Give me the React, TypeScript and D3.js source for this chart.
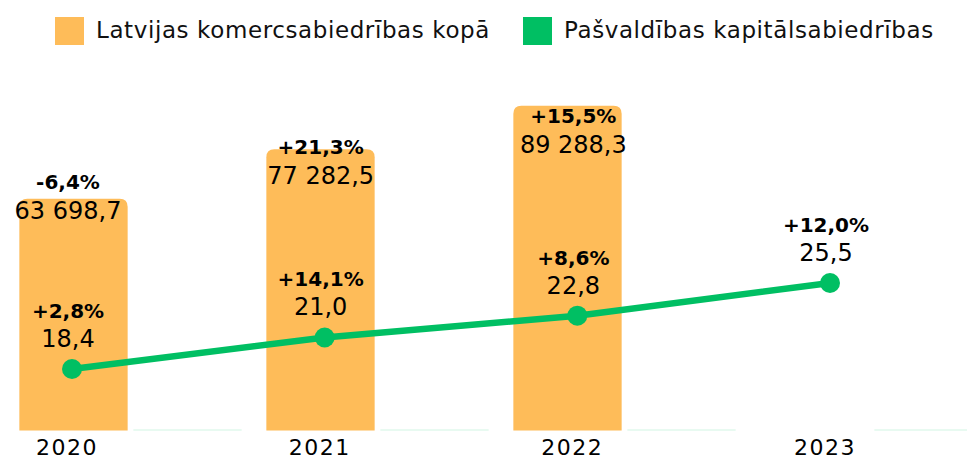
import React, { useEffect, useRef } from 'react';
import * as d3 from 'd3';

// chart data
const years = ['2020', '2021', '2022', '2023'];
const totalValues: (number | null)[] = [63698.7, 77282.5, 89288.3, null];
const totalChange: (string | null)[] = ['-6,4%', '+21,3%', '+15,5%', null];
const municipalValues = [18.4, 21.0, 22.8, 25.5];
const municipalChange = ['+2,8%', '+14,1%', '+8,6%', '+12,0%'];
const seriesNames = ['Latvijas komercsabiedrības kopā', 'Pašvaldības kapitālsabiedrības'];

const ORANGE = '#FEBC59';
const GREEN = '#00BF63';
const MINT = '#D2F6E4';
const FONT = 'DejaVu Sans';

const lv = d3.formatLocale({ decimal: ',', thousands: ' ', grouping: [3], currency: ['', ''] });
const fmt = lv.format(',.1f');

const App = () => {
  const ref = useRef<SVGSVGElement>(null);

  useEffect(() => {
    const width = 967,
      height = 458;
    const svg = d3.select(ref.current);
    svg.selectAll('*').remove();
    svg.attr('width', width).attr('height', height);

    // scales
    const x0 = d3
      .scaleBand()
      .domain(years)
      .range([7, 995])
      .paddingInner(0.1)
      .paddingOuter(0.05);
    const x1 = d3
      .scaleBand()
      .domain(['total', 'municipal'])
      .range([0, x0.bandwidth()])
      .paddingInner(0.05);
    const y = d3.scaleLinear().domain([0, 100000]).range([430.5, 66.7]);
    const yLabel = d3.scaleLinear().domain([0, 100000]).range([383.3, 125.3]);
    const xLine = d3.scalePoint().domain(years).range([72, 830]);
    const y2 = d3.scaleLinear().domain([10, 30]).range([470.7, 228.5]);

    // legend
    const legendItems = [
      { name: seriesNames[0], color: ORANGE, x: 55 },
      { name: seriesNames[1], color: GREEN, x: 523 },
    ];
    const lg = svg.append('g');
    legendItems.forEach((d) => {
      lg.append('rect').attr('x', d.x).attr('y', 17).attr('width', 29).attr('height', 28).attr('fill', d.color);
      lg.append('text')
        .attr('x', d.x + 41)
        .attr('y', 38)
        .attr('font-family', FONT)
        .attr('font-size', 23)
        .attr('letter-spacing', 0.6)
        .attr('fill', '#111')
        .text(d.name);
    });

    // bars
    const r = 8;
    years.forEach((yr, i) => {
      const v = totalValues[i];
      if (v != null) {
        const bx = (x0(yr) ?? 0) + (x1('total') ?? 0);
        const bw = x1.bandwidth();
        const top = y(v);
        const bottom = y(0);
        svg
          .append('path')
          .attr(
            'd',
            `M${bx},${bottom}V${top + r}Q${bx},${top} ${bx + r},${top}H${bx + bw - r}Q${bx + bw},${top} ${bx + bw},${top + r}V${bottom}Z`,
          )
          .attr('fill', ORANGE);
      }
      const mv = municipalValues[i];
      const mx = (x0(yr) ?? 0) + (x1('municipal') ?? 0);
      const mh = Math.max(1, y(0) - y(mv));
      svg
        .append('rect')
        .attr('x', mx)
        .attr('y', y(0) - mh)
        .attr('width', x1.bandwidth())
        .attr('height', mh)
        .attr('fill', MINT);
    });

    // bar labels
    years.forEach((yr, i) => {
      const v = totalValues[i];
      if (v == null) return;
      const cx = (xLine(yr) ?? 0) - 4;
      const ly = yLabel(v);
      svg
        .append('text')
        .attr('x', cx)
        .attr('y', ly - 30)
        .attr('text-anchor', 'middle')
        .attr('font-family', FONT)
        .attr('font-weight', 'bold')
        .attr('font-size', 20)
        .attr('fill', '#000')
        .text(totalChange[i] ?? '');
      svg
        .append('text')
        .attr('x', cx)
        .attr('y', ly)
        .attr('text-anchor', 'middle')
        .attr('font-family', FONT)
        .attr('font-size', 24)
        .attr('fill', '#000')
        .text(fmt(v));
    });

    // line
    const line = d3
      .line<number>()
      .x((_, i) => xLine(years[i]) ?? 0)
      .y((d) => y2(d));
    svg
      .append('path')
      .datum(municipalValues)
      .attr('d', line)
      .attr('fill', 'none')
      .attr('stroke', GREEN)
      .attr('stroke-width', 6.5);
    svg
      .selectAll('circle.pt')
      .data(municipalValues)
      .enter()
      .append('circle')
      .attr('cx', (_, i) => xLine(years[i]) ?? 0)
      .attr('cy', (d) => y2(d))
      .attr('r', 10)
      .attr('fill', GREEN);

    // line labels
    municipalValues.forEach((v, i) => {
      const cx = (xLine(years[i]) ?? 0) - 4;
      const py = y2(v);
      svg
        .append('text')
        .attr('x', cx)
        .attr('y', py - 51)
        .attr('text-anchor', 'middle')
        .attr('font-family', FONT)
        .attr('font-weight', 'bold')
        .attr('font-size', 20)
        .attr('fill', '#000')
        .text(municipalChange[i]);
      svg
        .append('text')
        .attr('x', cx)
        .attr('y', py - 22)
        .attr('text-anchor', 'middle')
        .attr('font-family', FONT)
        .attr('font-size', 24)
        .attr('fill', '#000')
        .text(fmt(v));
    });

    // x axis labels
    svg
      .selectAll('text.year')
      .data(years)
      .enter()
      .append('text')
      .attr('class', 'year')
      .attr('x', (d) => (xLine(d) ?? 0) - 5)
      .attr('y', 455)
      .attr('text-anchor', 'middle')
      .attr('font-family', FONT)
      .attr('font-size', 22)
      .attr('letter-spacing', 1.5)
      .attr('fill', '#000')
      .text((d) => d);
  }, []);

  return <svg ref={ref} style={{ position: 'absolute', left: 0, top: 0 }}></svg>;
};

export default App;
